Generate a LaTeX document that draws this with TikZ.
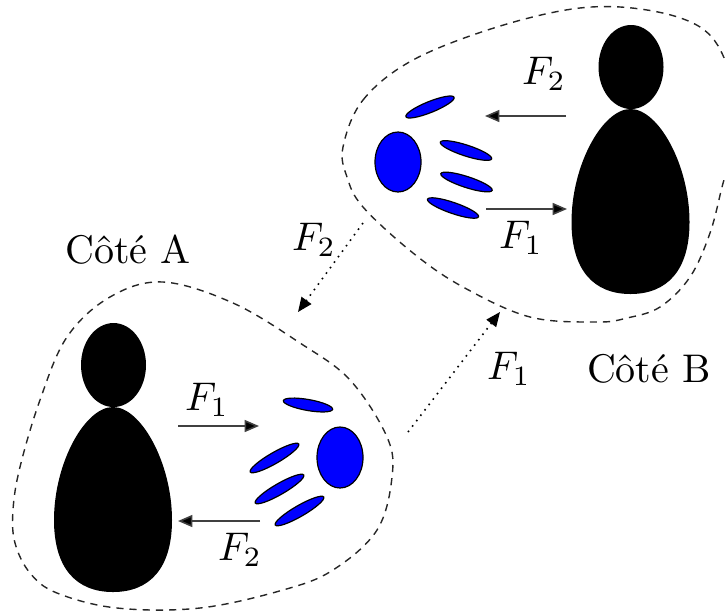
\documentclass[tikz,border=0pt]{standalone}
\usetikzlibrary{arrows.meta}
\begin{document}
\begin{tikzpicture}[x=0.25pt,y=0.25pt,
  person/.pic={
    \fill[black] (0.5,42) ellipse [x radius=32.5, y radius=42];
    \fill[black] (0,0) .. controls (28,0) and (59,-56) .. (59,-113)
      .. controls (59,-161) and (37,-185) .. (0,-185)
      .. controls (-37,-185) and (-59,-161) .. (-59,-113)
      .. controls (-59,-56) and (-28,0) .. (0,0);
  },
  blob/.style={fill=blue, draw=black, line width=0.3pt},
  zone/.style={draw=black!85, line width=0.35pt, dash pattern=on 1.8pt off 1.5pt},
  force/.style={draw=black!75, line width=0.4pt, -{Triangle[length=3.6pt,width=3pt,fill=black]}},
  transfer/.style={draw=black, line width=0.4pt, dash pattern=on 0.4pt off 1.3pt,
    -{Triangle[length=3.6pt,width=3pt]}},
  lbl/.style={inner sep=0pt, font=\normalsize}
]
\useasboundingbox (0,0) rectangle (725,613);

% dashed regions around each side
\draw[zone] plot[smooth cycle, tension=0.6] coordinates {
  (163,331) (233,310) (300,270) (350,233) (387,176) (392,136) (377,83)
  (333,43) (283,23) (200,5) (117,5) (57,20) (30,40) (15,70) (13,103)
  (20,146) (40,213) (67,276) (110,316)};
\draw[zone] plot[smooth cycle, tension=0.6] coordinates {
  (343,466) (363,513) (413,553) (497,586) (580,605) (647,603) (700,586)
  (725,553) (735,503) (729,453) (722,426) (710,380) (690,336) (660,306)
  (627,295) (597,291) (530,296) (463,326) (413,360) (363,406) (347,436)};

% the two persons
\pic at (113,206) {person};
\pic at (630.5,504) {person};

% side A: ball and motion streaks
\path[blob] (340,155.5) ellipse [x radius=23, y radius=30.5];
\path[blob, rotate around={-10:(308,208)}] (308,208) ellipse [x radius=25, y radius=5.5];
\path[blob, rotate around={30:(274.5,155)}] (274.5,155) ellipse [x radius=28, y radius=5.5];
\path[blob, rotate around={30:(279.5,124)}] (279.5,124) ellipse [x radius=28, y radius=5.5];
\path[blob, rotate around={30:(299.5,102)}] (299.5,102) ellipse [x radius=28, y radius=5.5];

% side B: ball and motion streaks
\path[blob] (398,451) ellipse [x radius=23, y radius=30];
\path[blob, rotate around={22:(430,506)}] (430,506) ellipse [x radius=26, y radius=5.5];
\path[blob, rotate around={-18:(466,462.5)}] (466,462.5) ellipse [x radius=27, y radius=5.5];
\path[blob, rotate around={-18:(466.5,431)}] (466.5,431) ellipse [x radius=27, y radius=5.5];
\path[blob, rotate around={-19:(453,405)}] (453,405) ellipse [x radius=27, y radius=5.5];

% arrow end points
\coordinate (a1s) at (178,187);  \coordinate (a1e) at (259,187);
\coordinate (a2s) at (260,92);   \coordinate (a2e) at (178,92);
\coordinate (b2s) at (566,497);  \coordinate (b2e) at (485,497);
\coordinate (b1s) at (486,404);  \coordinate (b1e) at (567,404);
\coordinate (t2s) at (363,390);  \coordinate (t2e) at (298,301);
\coordinate (t1s) at (408,181);  \coordinate (t1e) at (500,301);

% forces
\draw[force] (a1s) -- (a1e);
\draw[force] (a2s) -- (a2e);
\draw[force] (b2s) -- (b2e);
\draw[force] (b1s) -- (b1e);
\draw[transfer] (t2s) -- (t2e);
\draw[transfer] (t1s) -- (t1e);

% labels
\node[lbl] (la1) at (207,213) {$F_1$};
\node[lbl] (la2) at (240,63) {$F_2$};
\node[lbl] (lb2) at (544,539) {$F_2$};
\node[lbl] (lb1) at (521,375) {$F_1$};
\node[lbl] (lt2) at (314,373) {$F_2$};
\node[lbl] (lt1) at (509,244) {$F_1$};
\node[lbl, anchor=base] (sideA) at (128,350) {Côté A};
\node[lbl, anchor=base] (sideB) at (649,231) {Côté B};
\end{tikzpicture}
\end{document}
